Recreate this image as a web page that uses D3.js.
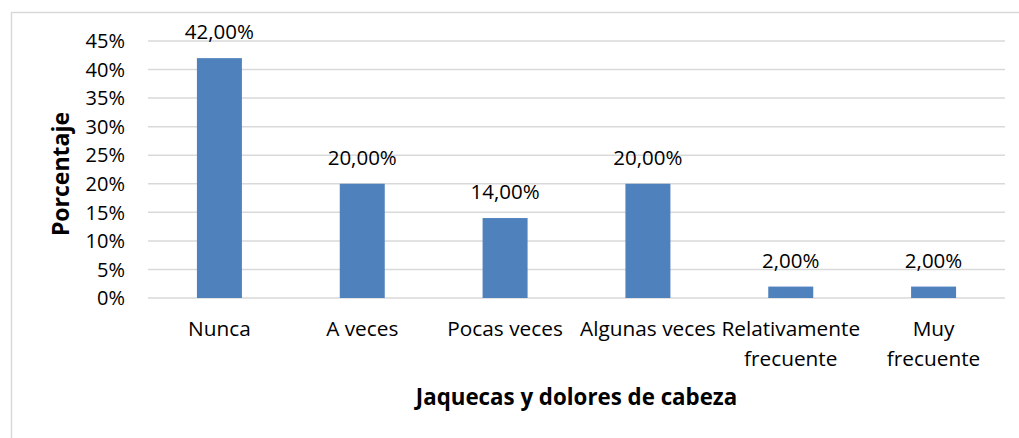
<!DOCTYPE html>
<html>
<head>
<meta charset="utf-8">
<script src="https://cdn.jsdelivr.net/npm/d3@7"></script>
<style>
  body { margin: 0; background: #fff; }
  svg { display: block; font-family: "Open Sans", Lato, sans-serif; }
</style>
</head>
<body>
<div id="chart"></div>
<script>
// values
const categories = ["Nunca", "A veces", "Pocas veces", "Algunas veces", "Relativamente frecuente", "Muy frecuente"];
const catLines = [["Nunca"], ["A veces"], ["Pocas veces"], ["Algunas veces"], ["Relativamente", "frecuente"], ["Muy", "frecuente"]];
const values = [42, 20, 14, 20, 2, 2];
const yTicks = [0, 5, 10, 15, 20, 25, 30, 35, 40, 45];

const width = 1019, height = 438;
const margin = {top: 41, right: 14, bottom: 140, left: 148};
const fs = 20.8;

const svg = d3.select("#chart").append("svg")
   .attr("width", width)
   .attr("height", height);

// chart frame (cut off at right and bottom in the picture)
svg.append("rect")
   .attr("x", 11.5).attr("y", 12.5)
   .attr("width", 1030).attr("height", 460)
   .attr("fill", "none")
   .attr("stroke", "#d9d9d9")
   .attr("stroke-width", 1.5);

let x = d3.scaleBand()
   .domain(categories)
   .range([margin.left, width - margin.right])
   .paddingInner(0.685)
   .paddingOuter(0.3425);

let y = d3.scaleLinear()
   .domain([0, 45])
   .range([height - margin.bottom, margin.top]);

// gridlines
svg.append("g")
   .selectAll("line")
   .data(yTicks)
   .join("line")
   .attr("x1", margin.left)
   .attr("x2", width - margin.right)
   .attr("y1", d => y(d))
   .attr("y2", d => y(d))
   .attr("stroke", "#d9d9d9")
   .attr("stroke-width", 1.5);

// y tick labels
svg.append("g")
   .selectAll("text")
   .data(yTicks)
   .join("text")
   .attr("x", 125)
   .attr("y", d => y(d))
   .attr("dy", "0.36em")
   .attr("text-anchor", "end")
   .attr("font-size", 20)
   .attr("fill", "#000")
   .text(d => d + "%");

// bars
svg.append("g")
   .selectAll("rect")
   .data(values)
   .join("rect")
   .attr("x", (d, i) => x(categories[i]))
   .attr("y", d => y(d))
   .attr("width", x.bandwidth())
   .attr("height", d => y(0) - y(d))
   .attr("fill", "#4f81bd");

// value labels
svg.append("g")
   .selectAll("text")
   .data(values)
   .join("text")
   .attr("x", (d, i) => x(categories[i]) + x.bandwidth() / 2)
   .attr("y", d => y(d) - 19)
   .attr("text-anchor", "middle")
   .attr("font-size", 20.5)
   .attr("fill", "#000")
   .text(d => d.toFixed(2).replace(".", ",") + "%");

// category labels
const catG = svg.append("g")
   .selectAll("text")
   .data(catLines)
   .join("text")
   .attr("x", (d, i) => x(categories[i]) + x.bandwidth() / 2)
   .attr("y", 336)
   .attr("text-anchor", "middle")
   .attr("font-size", fs)
   .attr("fill", "#000");

catG.selectAll("tspan")
   .data(d => d)
   .join("tspan")
   .attr("x", function() { return this.parentNode.getAttribute("x"); })
   .attr("dy", (d, i) => i ? 30 : 0)
   .text(d => d);

// axis titles
svg.append("text")
   .attr("x", (margin.left + width - margin.right) / 2)
   .attr("y", 405)
   .attr("text-anchor", "middle")
   .attr("font-size", 22.3)
   .attr("font-weight", "bold")
   .attr("fill", "#000")
   .text("Jaquecas y dolores de cabeza");

svg.append("text")
   .attr("transform", "translate(69,174) rotate(-90)")
   .attr("text-anchor", "middle")
   .attr("font-size", 23)
   .attr("font-weight", "bold")
   .attr("fill", "#000")
   .text("Porcentaje");
</script>
</body>
</html>
